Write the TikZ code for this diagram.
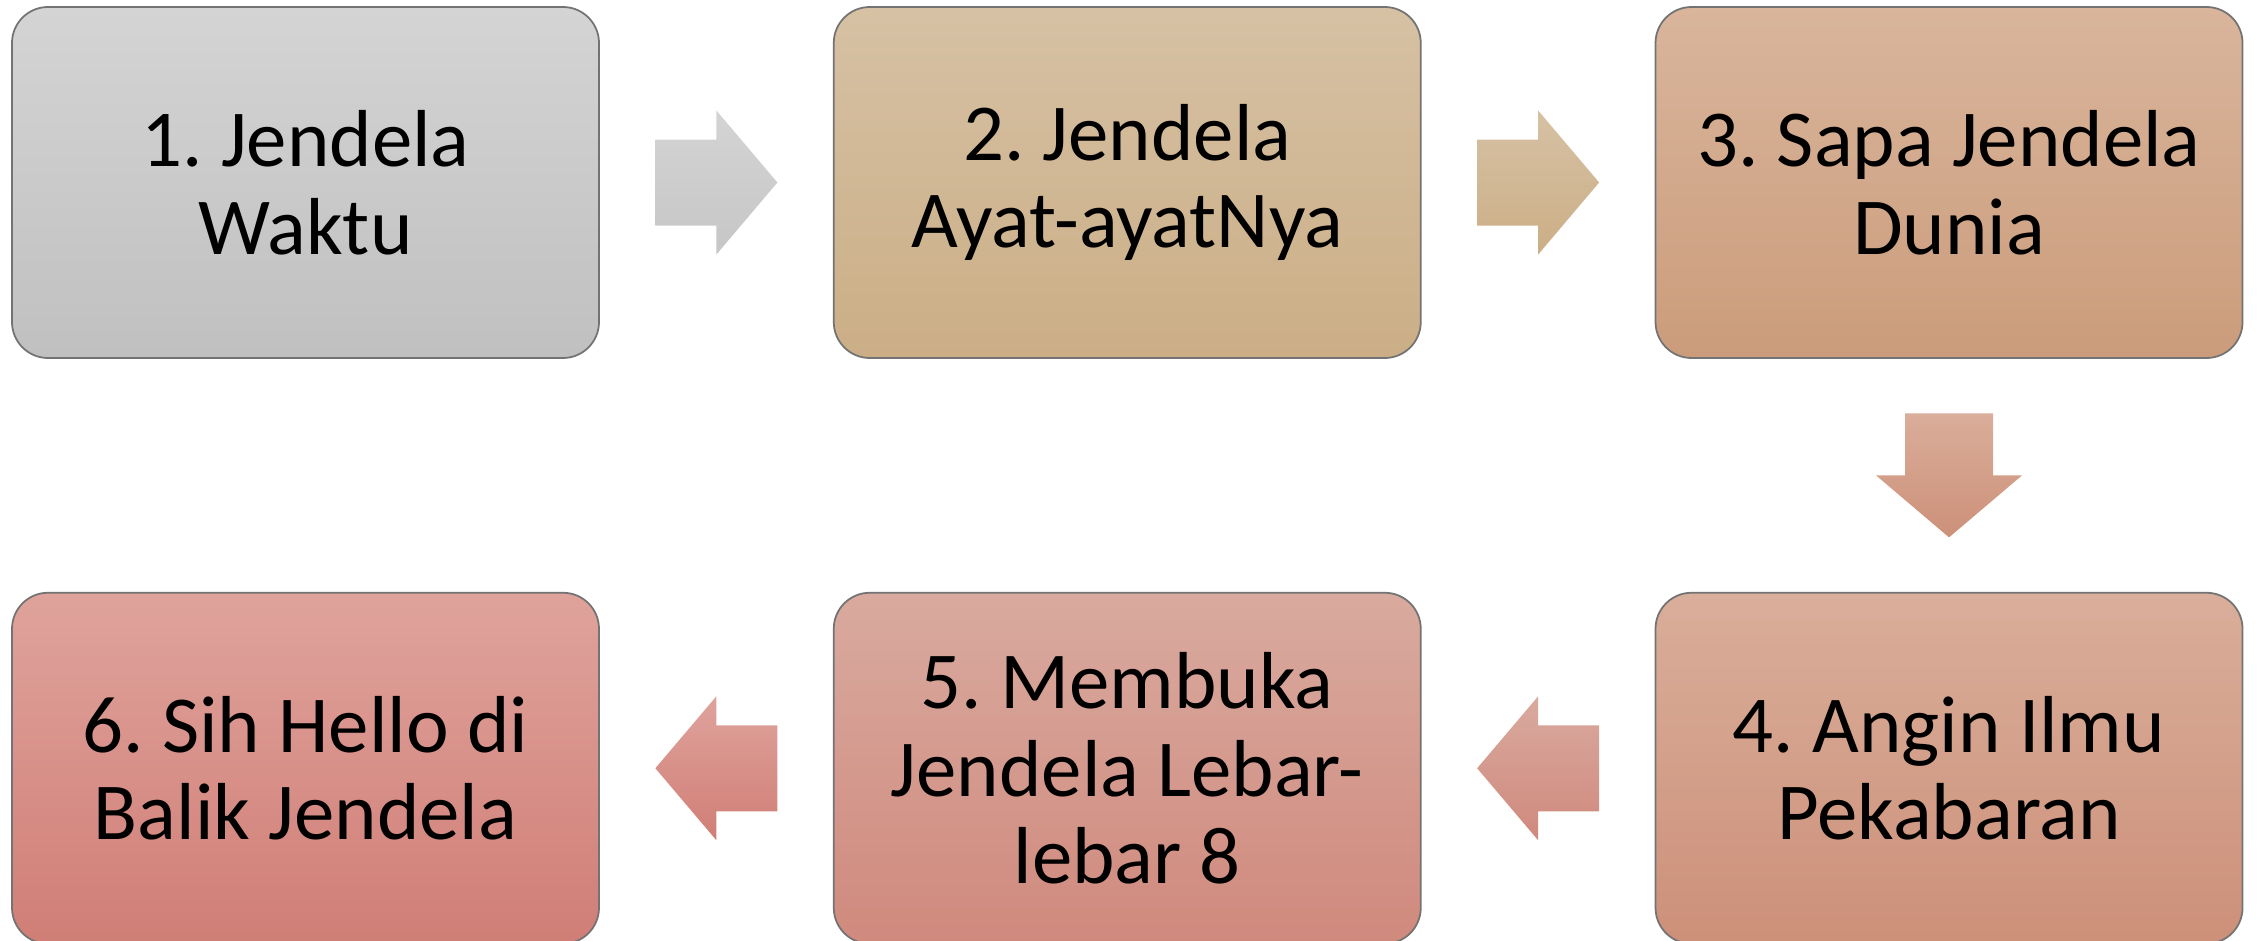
\documentclass[tikz,border=0pt]{standalone}
\usepackage{fontspec}
\setmainfont{Carlito}
\frenchspacing
\usetikzlibrary{positioning,calc}
\definecolor{greyA}{HTML}{D4D4D4}\definecolor{greyB}{HTML}{C0C0C0}
\definecolor{tanA}{HTML}{D6C1A4}\definecolor{tanB}{HTML}{CBAE86}
\definecolor{sandA}{HTML}{D9B59C}\definecolor{sandB}{HTML}{CB9C7B}
\definecolor{clayA}{HTML}{D9AE9A}\definecolor{clayB}{HTML}{CD9079}
\definecolor{roseA}{HTML}{D9AA9F}\definecolor{roseB}{HTML}{D0897D}
\definecolor{pinkA}{HTML}{DFA39C}\definecolor{pinkB}{HTML}{D07E76}
\tikzset{
  stepbox/.style={rounded corners=0.36cm,draw=black!55,line width=0.5pt,
    minimum width=5.87cm,minimum height=3.51cm,inner sep=0pt,align=center,
    font=\fontsize{23}{25}\selectfont}
}
% block arrows, drawn round a centre point
\newcommand\panahkanan[2]{\shade[#2,shift={(#1)}] (-0.61,-0.43) -- (0,-0.43) -- (0,-0.72) -- (0.61,0) -- (0,0.72) -- (0,0.43) -- (-0.61,0.43) -- cycle;}
\newcommand\panahkiri[2]{\shade[#2,shift={(#1)}] (0.61,-0.43) -- (0,-0.43) -- (0,-0.72) -- (-0.61,0) -- (0,0.72) -- (0,0.43) -- (0.61,0.43) -- cycle;}
\newcommand\panahbawah[2]{\shade[#2,shift={(#1)}] (-0.44,0.62) -- (0.44,0.62) -- (0.44,0) -- (0.73,0) -- (0,-0.62) -- (-0.73,0) -- (-0.44,0) -- cycle;}
\begin{document}
\begin{tikzpicture}[node distance=2.33cm]
\useasboundingbox (0,0) rectangle (22.57,-9.41);
% the upper row, left to right
\node[stepbox,top color=greyA,bottom color=greyB] (jendela1) at (3.055,-1.825) {1. Jendela\\Waktu};
\node[stepbox,top color=tanA,bottom color=tanB,right=of jendela1] (jendela2) {2. Jendela\\Ayat-ayatNya};
\node[stepbox,top color=sandA,bottom color=sandB,right=of jendela2] (jendela3) {3. Sapa Jendela\\Dunia};
% the lower row, right to left
\node[stepbox,top color=clayA,bottom color=clayB,below=of jendela3] (jendela4) {4. Angin Ilmu\\Pekabaran};
\node[stepbox,top color=roseA,bottom color=roseB,left=of jendela4] (jendela5) {5. Membuka\\Jendela Lebar-\\lebar 8};
\node[stepbox,top color=pinkA,bottom color=pinkB,left=of jendela5] (jendela6) {6. Sih Hello di\\Balik Jendela};
% the block arrows between them
\coordinate (panah12) at ($(jendela1.east)!0.5!(jendela2.west)$);
\coordinate (panah23) at ($(jendela2.east)!0.5!(jendela3.west)$);
\coordinate (panah34) at ($(jendela3.south)!0.5!(jendela4.north)$);
\coordinate (panah45) at ($(jendela4.west)!0.5!(jendela5.east)$);
\coordinate (panah56) at ($(jendela5.west)!0.5!(jendela6.east)$);
\panahkanan{panah12}{top color=greyA,bottom color=greyB!70!greyA}
\panahkanan{panah23}{top color=tanA,bottom color=tanB}
\panahbawah{panah34}{top color=clayA,bottom color=clayB}
\panahkiri{panah45}{top color=roseA,bottom color=roseB}
\panahkiri{panah56}{top color=pinkA,bottom color=pinkB}
\end{tikzpicture}
\end{document}
